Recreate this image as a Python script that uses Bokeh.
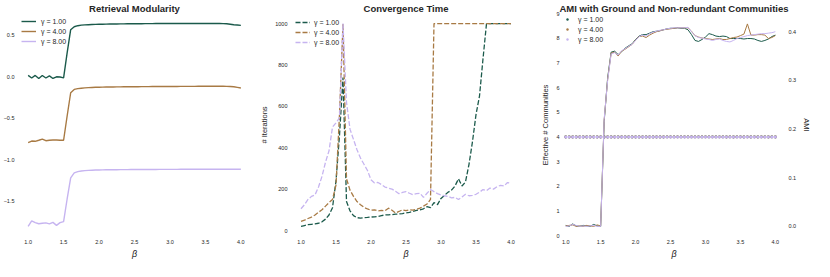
from bokeh.plotting import figure
from bokeh.layouts import row
from bokeh.models import Range1d, LinearAxis, FixedTicker, PrintfTickFormatter
from bokeh.embed import file_html
from bokeh.resources import INLINE

# ---------------- data ----------------
beta = [1.00, 1.05, 1.10, 1.15, 1.20, 1.25, 1.30, 1.35, 1.40, 1.45, 1.50,
        1.55, 1.60, 1.65, 1.70, 1.75, 1.80, 1.85, 1.90, 1.95, 2.00,
        2.05, 2.10, 2.15, 2.20, 2.25, 2.30, 2.35, 2.40, 2.45, 2.50,
        2.55, 2.60, 2.65, 2.70, 2.75, 2.80, 2.85, 2.90, 2.95, 3.00,
        3.05, 3.10, 3.15, 3.20, 3.25, 3.30, 3.35, 3.40, 3.45, 3.50,
        3.55, 3.60, 3.65, 3.70, 3.75, 3.80, 3.85, 3.90, 3.95, 4.00]

gamma_labels = ["γ = 1.00", "γ = 4.00", "γ = 8.00"]
colors = ["#1b5a4b", "#a87a44", "#c6b4f0"]

# Retrieval modularity
mod_g1 = [0.020, -0.012, 0.019, -0.018, 0.018, -0.012, 0.014, -0.018, 0.002, 0.000, -0.010,
          0.290, 0.570, 0.605, 0.618, 0.625, 0.628, 0.630, 0.632, 0.634, 0.635,
          0.636, 0.637, 0.638, 0.638, 0.639, 0.640, 0.640, 0.641, 0.641, 0.642,
          0.642, 0.642, 0.643, 0.643, 0.643, 0.644, 0.644, 0.644, 0.644, 0.645,
          0.645, 0.645, 0.645, 0.645, 0.645, 0.645, 0.645, 0.645, 0.645, 0.645,
          0.645, 0.645, 0.644, 0.644, 0.643, 0.641, 0.636, 0.630, 0.626, 0.622]
mod_g4 = [-0.790, -0.772, -0.775, -0.762, -0.748, -0.768, -0.762, -0.760, -0.760, -0.763, -0.762,
          -0.470, -0.190, -0.150, -0.140, -0.135, -0.131, -0.128, -0.126, -0.124, -0.123,
          -0.122, -0.121, -0.120, -0.120, -0.119, -0.119, -0.118, -0.118, -0.117, -0.117,
          -0.117, -0.116, -0.116, -0.116, -0.115, -0.115, -0.115, -0.115, -0.114, -0.114,
          -0.114, -0.114, -0.113, -0.113, -0.113, -0.113, -0.113, -0.112, -0.112, -0.112,
          -0.112, -0.112, -0.112, -0.112, -0.112, -0.113, -0.115, -0.118, -0.125, -0.132]
mod_g8 = [-1.800, -1.735, -1.755, -1.768, -1.763, -1.758, -1.770, -1.752, -1.788, -1.755, -1.742,
          -1.470, -1.215, -1.155, -1.140, -1.133, -1.128, -1.125, -1.123, -1.121, -1.120,
          -1.119, -1.118, -1.118, -1.117, -1.117, -1.116, -1.116, -1.116, -1.115, -1.115,
          -1.115, -1.115, -1.114, -1.114, -1.114, -1.114, -1.113, -1.113, -1.113, -1.113,
          -1.113, -1.113, -1.112, -1.112, -1.112, -1.112, -1.112, -1.112, -1.112, -1.111,
          -1.111, -1.111, -1.111, -1.111, -1.111, -1.111, -1.111, -1.111, -1.111, -1.112]

# Convergence time (# iterations)
it_g1 = [20, 24, 28, 30, 32, 35, 42, 55, 75, 110, 240,
         460, 740, 140, 95, 72, 62, 60, 62, 63, 65,
         66, 68, 72, 75, 76, 77, 79, 80, 82, 85,
         88, 92, 97, 100, 105, 115, 110, 135, 125, 155,
         170, 185, 195, 215, 250, 215, 235, 320, 430, 560,
         650, 830, 1000, 1000, 1000, 1000, 1000, 1000, 1000, 1000]
it_g4 = [44, 50, 58, 65, 75, 88, 100, 118, 135, 150, 220,
         560, 1000, 250, 195, 165, 140, 125, 112, 104, 98,
         100, 95, 97, 96, 108, 98, 85, 92, 100, 96,
         100, 98, 103, 108, 118, 128, 150, 1000, 1000, 1000,
         1000, 1000, 1000, 1000, 1000, 1000, 1000, 1000, 1000, 1000,
         1000, 1000, 1000, 1000, 1000, 1000, 1000, 1000, 1000, 1000]
it_g8 = [105, 125, 150, 165, 172, 210, 262, 330, 385, 500, 520,
         545, 1000, 620, 490, 440, 390, 350, 320, 290, 245,
         230, 232, 222, 210, 205, 200, 190, 178, 184, 188,
         180, 173, 178, 180, 160, 180, 198, 188, 178, 172,
         168, 165, 158, 160, 150, 162, 175, 168, 170, 175,
         185, 198, 192, 205, 200, 212, 218, 215, 232, 228]

# Effective number of communities (left axis)
eff_g1 = [4.0, 4.0, 4.0, 4.0, 4.0, 4.0, 4.0, 4.0, 4.0, 4.0, 4.0,
          4.0, 4.0, 4.0, 4.0, 4.0, 4.0, 4.0, 4.0, 4.0, 4.0,
          4.0, 4.0, 4.0, 4.0, 4.0, 4.0, 4.0, 4.0, 4.0, 4.0,
          4.0, 4.0, 4.0, 4.0, 4.0, 4.0, 4.0, 4.0, 4.0, 4.0,
          4.0, 4.0, 4.0, 4.0, 4.0, 4.0, 4.0, 4.0, 4.0, 4.0,
          4.0, 4.0, 4.0, 4.0, 4.0, 4.0, 4.0, 4.0, 4.0, 4.0]
eff_g4 = list(eff_g1)
eff_g8 = list(eff_g1)

# AMI (right axis)
ami_g1 = [0.002, 0.000, 0.005, 0.001, 0.000, 0.002, 0.001, 0.000, 0.004, 0.001, 0.000,
          0.215, 0.305, 0.358, 0.360, 0.353, 0.359, 0.366, 0.371, 0.375, 0.384,
          0.391, 0.394, 0.394, 0.397, 0.400, 0.401, 0.402, 0.404, 0.406, 0.407,
          0.407, 0.408, 0.407, 0.407, 0.404, 0.394, 0.382, 0.380, 0.384, 0.389,
          0.396, 0.394, 0.391, 0.390, 0.391, 0.390, 0.386, 0.386, 0.386, 0.386,
          0.385, 0.386, 0.386, 0.385, 0.382, 0.380, 0.382, 0.385, 0.390, 0.393]
ami_g4 = [0.001, 0.002, 0.003, 0.000, 0.001, 0.000, 0.002, 0.001, 0.000, 0.003, 0.001,
          0.218, 0.302, 0.356, 0.358, 0.350, 0.360, 0.364, 0.369, 0.374, 0.383,
          0.390, 0.391, 0.388, 0.393, 0.397, 0.400, 0.402, 0.404, 0.405, 0.406,
          0.407, 0.408, 0.408, 0.408, 0.408, 0.401, 0.392, 0.389, 0.387, 0.386,
          0.385, 0.384, 0.385, 0.386, 0.384, 0.384, 0.386, 0.388, 0.389, 0.392,
          0.395, 0.416, 0.393, 0.393, 0.394, 0.394, 0.393, 0.386, 0.388, 0.392]
ami_g8 = [0.000, 0.001, 0.004, 0.002, 0.000, 0.001, 0.000, 0.001, 0.002, 0.000, 0.000,
          0.220, 0.300, 0.354, 0.357, 0.352, 0.361, 0.365, 0.370, 0.374, 0.382,
          0.390, 0.393, 0.391, 0.396, 0.399, 0.401, 0.403, 0.404, 0.406, 0.407,
          0.408, 0.408, 0.408, 0.408, 0.409, 0.400, 0.392, 0.388, 0.387, 0.385,
          0.384, 0.382, 0.384, 0.385, 0.382, 0.380, 0.379, 0.382, 0.386, 0.388,
          0.390, 0.392, 0.393, 0.394, 0.395, 0.396, 0.396, 0.397, 0.398, 0.400]

x_ticks = [1.0, 1.5, 2.0, 2.5, 3.0, 3.5, 4.0]
mod_ticks = [-1.5, -1.0, -0.5, 0.0, 0.5]
iter_ticks = [0, 200, 400, 600, 800, 1000]
eff_ticks = [0, 1, 2, 3, 4, 5, 6, 7, 8, 9]
ami_ticks = [0.0, 0.1, 0.2, 0.3, 0.4]

# ---------------- styling helpers ----------------
FONT = "Liberation Sans"
TXT = "#262626"


def style_axis(ax, label_size="7.5px"):
    ax.axis_line_color = None
    ax.major_tick_line_color = None
    ax.minor_tick_line_color = None
    ax.major_tick_out = 0
    ax.major_tick_in = 0
    ax.minor_tick_out = 0
    ax.minor_tick_in = 0
    ax.major_label_text_font = FONT
    ax.major_label_text_font_size = "5.5px"
    ax.major_label_text_color = TXT
    ax.major_label_standoff = 3
    ax.axis_label_text_font = FONT
    ax.axis_label_text_font_size = label_size
    ax.axis_label_text_font_style = "normal"
    ax.axis_label_text_color = TXT
    ax.axis_label_standoff = 3


def make_fig(title, width, bl, br, xr, yr):
    p = figure(width=width, height=261, output_backend="svg", toolbar_location=None,
               x_range=xr, y_range=yr, title=title,
               min_border_left=bl, min_border_right=br,
               min_border_top=10, min_border_bottom=20)
    p.outline_line_color = None
    p.xgrid.visible = False
    p.ygrid.visible = False
    p.background_fill_color = "white"
    p.border_fill_color = "white"
    p.title.text_font = FONT
    p.title.text_font_size = "9.5px"
    p.title.text_font_style = "bold"
    p.title.text_color = TXT
    p.title.align = "center"
    p.title.standoff = 0
    for ax in p.axis:
        style_axis(ax)
    p.xaxis.ticker = FixedTicker(ticks=x_ticks)
    p.xaxis.formatter = PrintfTickFormatter(format="%.1f")
    p.xaxis.axis_label = "β"
    p.xaxis.axis_label_text_font_style = "italic"
    p.xaxis.axis_label_text_font_size = "9px"
    p.xaxis.axis_label_standoff = 2
    return p


def style_legend(p, gw, margin, standoff):
    lg = p.legend[0]
    lg.location = "top_left"
    lg.label_text_font = FONT
    lg.label_text_font_size = "7px"
    lg.label_text_color = TXT
    lg.glyph_width = gw
    lg.glyph_height = 8
    lg.label_height = 8
    lg.label_standoff = standoff
    lg.spacing = 2
    lg.padding = 1
    lg.margin = margin
    lg.border_line_color = None
    lg.background_fill_alpha = 0


# ---------------- panel 1 ----------------
p1 = make_fig("Retrieval Modularity", 257, 14, 6, Range1d(0.85, 4.15), Range1d(-1.922, 0.765))
p1.yaxis.ticker = FixedTicker(ticks=mod_ticks)
p1.yaxis.major_label_overrides = {-1.5: "\u22121.5", -1.0: "\u22121.0", -0.5: "\u22120.5",
                                  0.0: "0.0", 0.5: "0.5"}
for ys, c, lab in zip([mod_g1, mod_g4, mod_g8], colors, gamma_labels):
    p1.line(beta, ys, line_color=c, line_width=1.4, legend_label=lab)
style_legend(p1, 15, 4, 5)

# ---------------- panel 2 ----------------
p2 = make_fig("Convergence Time", 280, 27, 16, Range1d(0.85, 4.15), Range1d(-29, 1049))
p2.yaxis.ticker = FixedTicker(ticks=iter_ticks)
p2.yaxis.axis_label = "# Iterations"
for ys, c, lab in zip([it_g1, it_g4, it_g8], colors, gamma_labels):
    p2.line(beta, ys, line_color=c, line_width=1.3, line_dash="5 2", legend_label=lab)
style_legend(p2, 15, 5, 4)

# ---------------- panel 3 ----------------
p3 = make_fig("AMI with Ground and Non-redundant Communities", 277, 25, 25,
              Range1d(0.954, 4.145), Range1d(-0.03, 9.0))
p3.yaxis.ticker = FixedTicker(ticks=eff_ticks)
p3.yaxis.axis_label = "Effective # Communities"
p3.extra_y_ranges = {"ami": Range1d(-0.0208, 0.4374)}
for ys, c, lab, sz in zip([eff_g1, eff_g4, eff_g8], colors, gamma_labels, [2.8, 2.8, 3.2]):
    p3.scatter(beta, ys, size=sz, fill_color=c, line_color=None, legend_label=lab)
for ys, c in zip([ami_g1, ami_g4, ami_g8], colors):
    p3.line(beta, ys, line_color=c, line_width=1.0, y_range_name="ami")
ax_r = LinearAxis(y_range_name="ami", axis_label="AMI", ticker=FixedTicker(ticks=ami_ticks),
                  formatter=PrintfTickFormatter(format="%.1f"))
style_axis(ax_r)
p3.add_layout(ax_r, "right")
style_legend(p3, 6, 2, 8)

layout = row(p1, p2, p3)
open("out.html", "w").write(file_html(layout, INLINE))
